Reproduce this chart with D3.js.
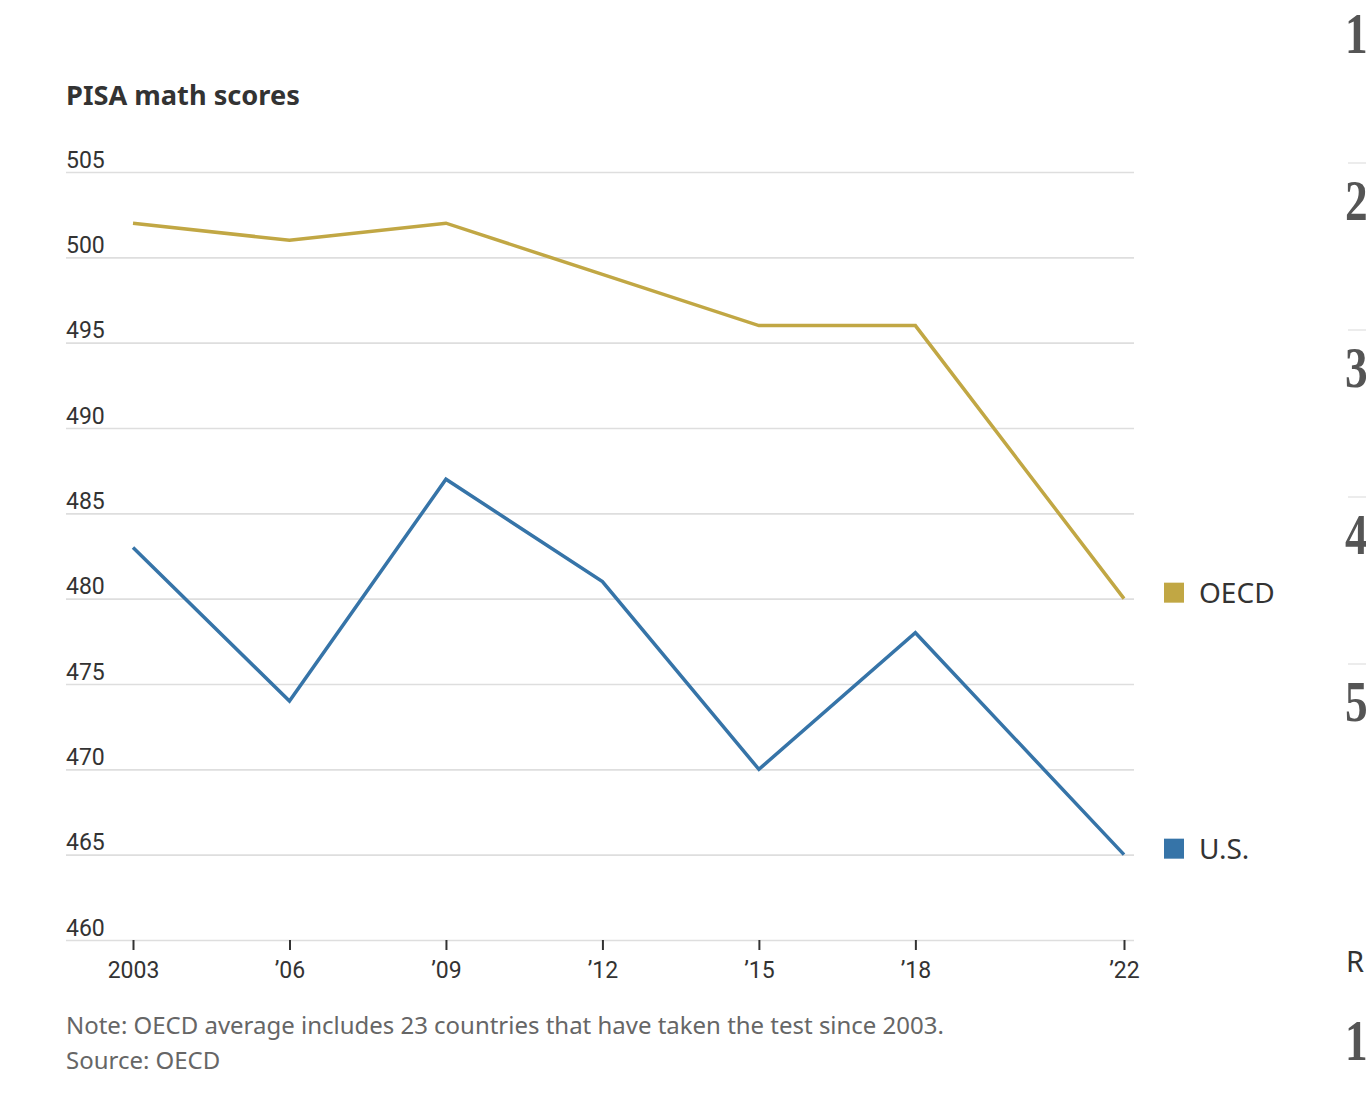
<!DOCTYPE html>
<html><head><meta charset="utf-8">
<script src="https://cdn.jsdelivr.net/npm/d3@7"></script>
<style>
html,body{margin:0;padding:0;background:#fff;}
svg{display:block;}
</style></head>
<body>
<svg id="c" width="1366" height="1120"></svg>
<script>
const years = [2003, 2006, 2009, 2012, 2015, 2018, 2022];
const yearLabels = ["2003", "\u201906", "\u201909", "\u201912", "\u201915", "\u201918", "\u201922"];
const oecd = [502, 501, 502, 499, 496, 496, 480];
const us = [483, 474, 487, 481, 470, 478, 465];
const yTicks = [460, 465, 470, 475, 480, 485, 490, 495, 500, 505];
const seriesNames = ["OECD", "U.S."];
const seriesColors = ["#c1a744", "#3674a8"];
const sideNumbers = ["1", "2", "3", "4", "5"];

const svg = d3.select("#c");
const font = "Roboto, 'Noto Sans', sans-serif";
const font2 = "'Noto Sans', 'Open Sans', sans-serif";

// partial headline fragment at top
svg.append("text").attr("x", 229).attr("y", -8).attr("font-family", font2)
  .attr("font-weight", 700).attr("font-size", 30).attr("fill", "#222").text("g");

const x = d3.scaleLinear().domain([2003, 2022]).range([133, 1124]);
const y = d3.scaleLinear().domain([460, 505]).range([940, 172]);

// title
const title = svg.append("text").attr("x", 66).attr("y", 105).attr("font-family", font2)
  .attr("font-weight", 700).attr("font-size", 27).attr("fill", "#333").text("PISA math scores");
{
  const w = title.node().getComputedTextLength();
  title.attr("font-size", 27 * 234 / w);
}

// y grid/axis
const yAxis = d3.axisRight(y).tickValues(yTicks).tickSize(1068).tickFormat(d3.format("d"));
const gy = svg.append("g").attr("transform", "translate(66,0)").call(yAxis);
gy.select(".domain").remove();
gy.selectAll(".tick line").attr("stroke", "#dedede").attr("stroke-width", 1.6);
gy.selectAll(".tick text").attr("x", 0).attr("dy", -5).attr("text-anchor", "start")
  .attr("font-family", font).attr("font-size", 23).attr("fill", "#333");

// x axis ticks
const xAxis = d3.axisBottom(x).tickValues(years).tickSize(10).tickPadding(12)
  .tickFormat((d, i) => yearLabels[i]);
const gx = svg.append("g").attr("transform", "translate(0,940)").call(xAxis);
gx.select(".domain").remove();
gx.selectAll(".tick line").attr("stroke", "#333").attr("stroke-width", 2);
gx.selectAll(".tick text").attr("font-family", font).attr("font-size", 23).attr("fill", "#333")
  .attr("dy", "0.71em");

// lines
const line = d3.line().x((d, i) => x(years[i])).y(d => y(d));
[oecd, us].forEach((s, k) => {
  svg.append("path").datum(s).attr("d", line).attr("fill", "none")
    .attr("stroke", seriesColors[k]).attr("stroke-width", 3.5).attr("stroke-linejoin", "miter");
});

// legend at line ends
[oecd, us].forEach((s, k) => {
  const yy = y(s[s.length - 1]) - 6;
  svg.append("rect").attr("x", 1164).attr("y", yy - 10).attr("width", 20).attr("height", 20)
    .attr("fill", seriesColors[k]);
  svg.append("text").attr("x", 1199).attr("y", yy + 10).attr("font-family", font2)
    .attr("font-size", 28).attr("fill", "#333").text(seriesNames[k]);
});

// notes
const note = svg.append("text").attr("x", 66).attr("y", 1034).attr("font-family", font2)
  .attr("font-size", 23).attr("fill", "#666")
  .text("Note: OECD average includes 23 countries that have taken the test since 2003.");
const noteW = note.node().getComputedTextLength();
const noteSize = 23 * 878 / noteW;
note.attr("font-size", noteSize);
svg.append("text").attr("x", 66).attr("y", 1069).attr("font-family", font2)
  .attr("font-size", noteSize).attr("fill", "#666").text("Source: OECD");

// right side fragment (neighbouring list)
const serif = "'Liberation Serif', 'DejaVu Serif', serif";
function sideNum(n, yb) {
  svg.append("g").attr("transform", `translate(1345,${yb}) scale(0.78,1)`)
    .append("text").attr("font-family", serif).attr("font-size", 58).attr("font-weight", 700)
    .attr("fill", "#555").text(n);
}
sideNumbers.forEach((n, i) => {
  sideNum(n, 53 + i * 167);
  if (i > 0) svg.append("line").attr("x1", 1348).attr("x2", 1366)
    .attr("y1", 163 + (i - 1) * 167).attr("y2", 163 + (i - 1) * 167)
    .attr("stroke", "#e6e6e6").attr("stroke-width", 1.5);
});
svg.append("text").attr("x", 1346).attr("y", 972).attr("font-family", font2)
  .attr("font-size", 29).attr("fill", "#333").text("R");
sideNum("1", 1060);
</script>
</body></html>
